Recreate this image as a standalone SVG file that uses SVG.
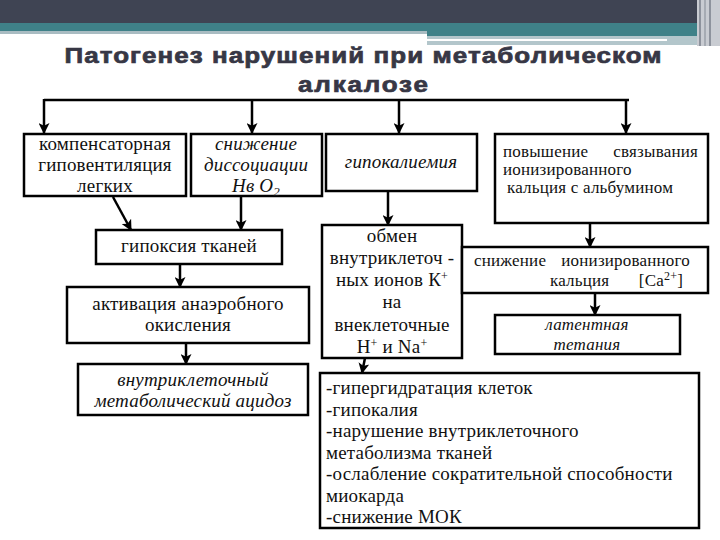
<svg xmlns="http://www.w3.org/2000/svg" width="720" height="540" viewBox="0 0 720 540">
<defs>
<style>
.box{fill:#fff;stroke:#000;stroke-width:2.5}
.t{font-family:"Liberation Serif","Times New Roman",serif;font-size:19px;letter-spacing:0.2px;fill:#111}
.i{font-style:italic}
.s{font-size:17px}
.c{text-anchor:middle}
.e{text-anchor:end}
.sup{font-size:12px}
.title{font-family:"Liberation Sans",Arial,sans-serif;font-weight:bold;font-size:22px;fill:#373745;stroke:#373745;stroke-width:0.7;text-anchor:middle}
.ln{fill:none;stroke:#000;stroke-width:2.5}
</style>
<marker id="ah" viewBox="0 0 10 10" refX="9" refY="5" markerWidth="11" markerHeight="11" markerUnits="userSpaceOnUse" orient="auto">
<path d="M0,0 L10,5 L0,10 L2.5,5 z" fill="#000"/>
</marker>
</defs>

<g id="header">
<rect x="0" y="0" width="720" height="23" fill="#3f4453"/>
<rect x="0" y="23" width="700" height="9" fill="#3f8188"/>
<rect x="0" y="31" width="427" height="3" fill="#a9bcc2"/>
<rect x="427" y="31" width="273" height="5" fill="#3f8188"/>
<rect x="427" y="36" width="273" height="9" fill="#b3c6cb"/>
<rect x="427" y="39" width="240" height="2" fill="#ffffff"/>
<rect x="697" y="0" width="23" height="46" fill="#c9ccd2"/>
<rect x="699" y="0" width="2" height="46" fill="#8e939d"/>
<rect x="704" y="0" width="2" height="46" fill="#a6abb3"/>
<rect x="709" y="0" width="2" height="46" fill="#8e939d"/>
</g>

<g id="title">
<text class="title" transform="translate(363,63) scale(1.18,1)" x="0" y="0" textLength="506" lengthAdjust="spacing">Патогенез нарушений при метаболическом</text>
<text class="title" transform="translate(363,92) scale(1.18,1)" x="0" y="0" textLength="110" lengthAdjust="spacing">алкалозе</text>
</g>

<g id="connectors">
<path class="ln" d="M44,100 H629"/>
<path class="ln" d="M44,99 V133" marker-end="url(#ah)"/>
<path class="ln" d="M252,100 V133" marker-end="url(#ah)"/>
<path class="ln" d="M399,100 V133" marker-end="url(#ah)"/>
<path class="ln" d="M626,99 V133" marker-end="url(#ah)"/>
<path class="ln" d="M113,197 L131,230" marker-end="url(#ah)"/>
<path class="ln" d="M241,197 V230" marker-end="url(#ah)"/>
<path class="ln" d="M180,264 V287" marker-end="url(#ah)"/>
<path class="ln" d="M186,343 V364" marker-end="url(#ah)"/>
<path class="ln" d="M388,191 V225" marker-end="url(#ah)"/>
<path class="ln" d="M590,223 V247" marker-end="url(#ah)"/>
<path class="ln" d="M595,293 V315" marker-end="url(#ah)"/>
<path class="ln" d="M365,358 L362,373" marker-end="url(#ah)"/>
</g>

<g id="n1">
<rect class="box" x="24" y="134" width="162" height="62"/>
<text class="t c" x="105" y="150">компенсаторная</text>
<text class="t c" x="105" y="171">гиповентиляция</text>
<text class="t c" x="105" y="192">легких</text>
</g>

<g id="n2">
<rect class="box" x="191" y="134" width="131" height="62"/>
<text class="t c i" x="256" y="150">снижение</text>
<text class="t c i" x="256" y="171">диссоциации</text>
<text class="t c i" x="256" y="192">Нв О<tspan font-size="13" dy="4">2</tspan></text>
</g>

<g id="n3">
<rect class="box" x="326" y="134" width="151" height="57"/>
<text class="t c i" x="401" y="168">гипокалиемия</text>
</g>

<g id="n4">
<rect class="box" x="495" y="134" width="213" height="89"/>
<text class="t s" x="503" y="157">повышение</text>
<text class="t s e" x="698" y="157">связывания</text>
<text class="t s" x="503" y="175">ионизированного</text>
<text class="t s" x="507" y="193">кальция с альбумином</text>
</g>

<g id="n5">
<rect class="box" x="96" y="230" width="186" height="34"/>
<text class="t c" x="189" y="252">гипоксия тканей</text>
</g>

<g id="n6">
<rect class="box" x="67" y="287" width="242" height="56"/>
<text class="t c" x="188" y="310">активация анаэробного</text>
<text class="t c" x="188" y="331">окисления</text>
</g>

<g id="n7">
<rect class="box" x="78" y="364" width="230" height="51"/>
<text class="t c i" x="193" y="386">внутриклеточный</text>
<text class="t c i" x="193" y="407">метаболический ацидоз</text>
</g>

<g id="n8">
<rect class="box" x="322" y="225" width="140" height="133"/>
<text class="t c" x="392" y="242">обмен</text>
<text class="t c" x="392" y="264">внутриклеточ -</text>
<text class="t c" x="392" y="286">ных ионов К<tspan class="sup" dy="-6">+</tspan></text>
<text class="t c" x="392" y="308">на</text>
<text class="t c" x="392" y="331">внеклеточные</text>
<text class="t c" x="392" y="353">Н<tspan class="sup" dy="-6">+</tspan><tspan dy="6">  и Na</tspan><tspan class="sup" dy="-6">+</tspan></text>
</g>

<g id="n9">
<rect class="box" x="462" y="247" width="246" height="46"/>
<text class="t s" x="474" y="266">снижение</text>
<text class="t s e" x="690" y="266">ионизированного</text>
<text class="t s" x="550" y="286">кальция</text>
<text class="t s e" x="683" y="286">[Ca<tspan class="sup" dy="-6">2+</tspan><tspan dy="6">]</tspan></text>
</g>

<g id="n10">
<rect class="box" x="495" y="315" width="185" height="39"/>
<text class="t c i s" x="587" y="330">латентная</text>
<text class="t c i s" x="587" y="350">тетания</text>
</g>

<g id="n11">
<rect class="box" x="320" y="373" width="379" height="155"/>
<text class="t" x="326" y="394">-гипергидратация клеток</text>
<text class="t" x="326" y="415.5">-гипокалия</text>
<text class="t" x="326" y="437">-нарушение внутриклеточного</text>
<text class="t" x="326" y="458.5">метаболизма тканей</text>
<text class="t" x="326" y="480">-ослабление сократительной способности</text>
<text class="t" x="326" y="501.5">миокарда</text>
<text class="t" x="326" y="523">-снижение МОК</text>
</g>
</svg>
